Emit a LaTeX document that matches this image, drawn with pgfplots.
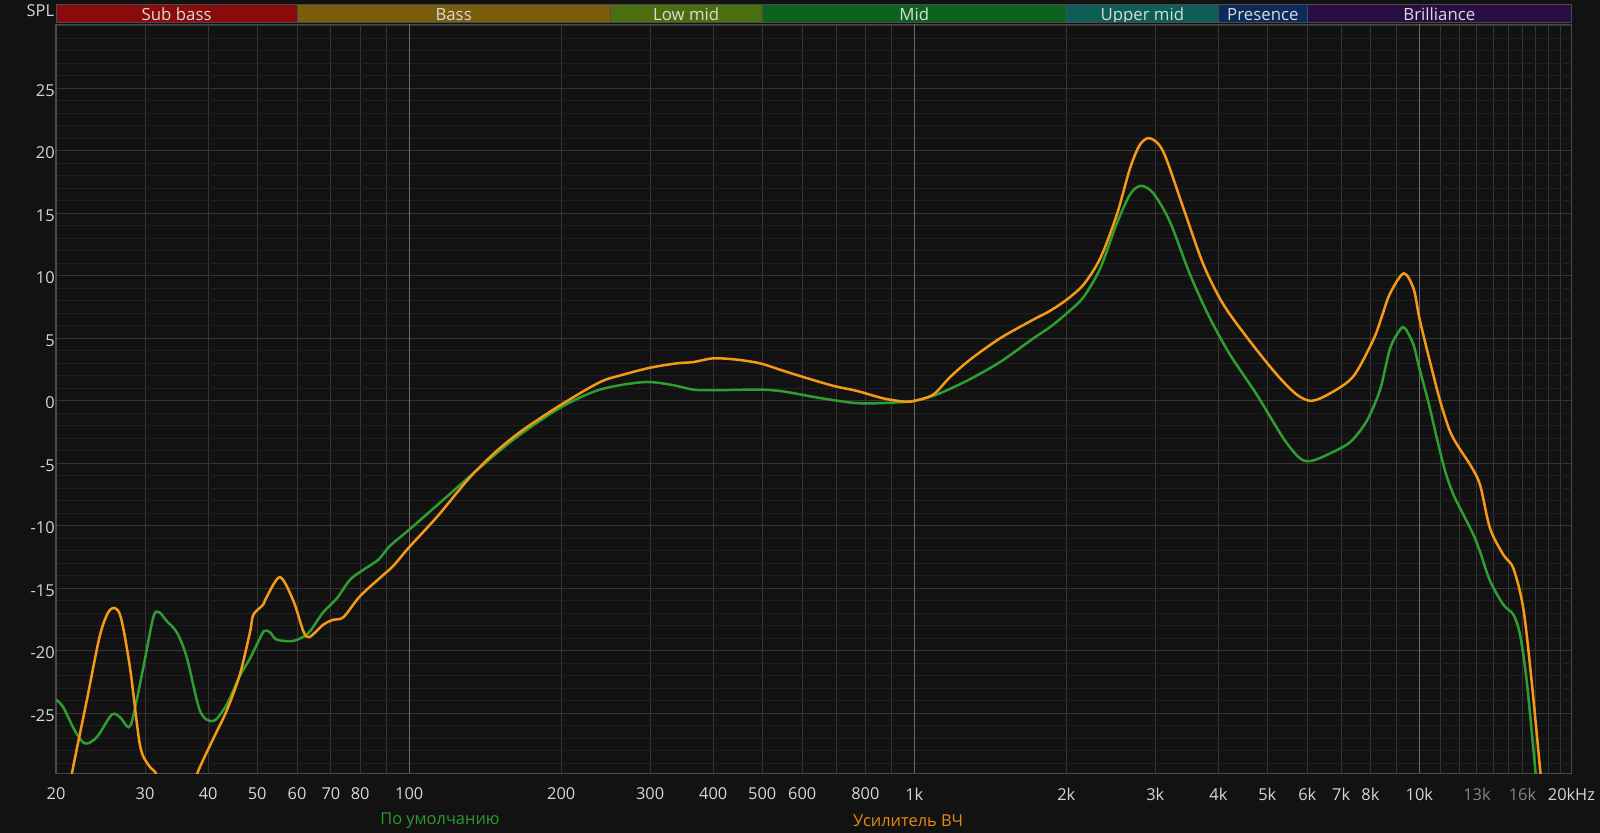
\documentclass[border=0pt]{standalone}
\usepackage{pgfplots}
\pgfplotsset{compat=1.18}
\usetikzlibrary{calc}
\usepackage{fontspec}
\setmainfont{Open Sans}
\definecolor{bg}{HTML}{121212}
\definecolor{gridmaj}{HTML}{363636}
\definecolor{gridmin}{HTML}{1F1F1F}
\definecolor{decade}{HTML}{6A6A6A}
\definecolor{border}{HTML}{4A4A4A}
\definecolor{ticktext}{HTML}{D6D6D6}
\definecolor{dimtext}{HTML}{858585}
\definecolor{cgreen}{HTML}{2E9E30}
\definecolor{corange}{HTML}{F59A14}
\definecolor{lgreen}{HTML}{2A9A2C}
\definecolor{lorange}{HTML}{E88A0C}
\definecolor{bsub}{HTML}{8A0B0B}
\definecolor{bbass}{HTML}{7B5E0B}
\definecolor{blow}{HTML}{4A6E10}
\definecolor{bmid}{HTML}{0C6320}
\definecolor{bupper}{HTML}{0D5E56}
\definecolor{bpres}{HTML}{0B2B5C}
\definecolor{bbril}{HTML}{2A0D42}
\definecolor{bandtext}{HTML}{DADADA}

\pgfplotstableread{
f db
20 -23.9
20.66 -24.5
21.8 -26.4
22.8 -27.4
24.07 -26.9
25.77 -25.1
26.76 -25.3
27.8 -26.1
28.4 -25.3
29.77 -21.3
31.15 -17.3
31.97 -16.9
33.1 -17.6
34.66 -18.5
36.28 -20.5
38.55 -24.8
40.96 -25.6
43.5 -24.3
46.2 -22.0
48.4 -20.6
50.2 -19.3
51.6 -18.4
53 -18.5
54.7 -19.1
59 -19.2
62.7 -18.7
64 -18.3
67.6 -16.9
71.9 -15.8
76.4 -14.3
81.2 -13.5
86.9 -12.7
91.6 -11.6
100 -10.3
116.9 -7.9
140.2 -5.1
163.3 -2.9
200 -0.5
238.6 0.9
290.8 1.5
328.6 1.3
365.4 0.9
400 0.85
495 0.9
550.9 0.75
641 0.27
746 -0.13
805 -0.2
896 -0.15
1000 0
1107 0.5
1270 1.6
1478 3.1
1721 5.0
1857 5.9
2004 7.0
2163 8.3
2334 10.6
2518 14.2
2674 16.5
2808 17.2
2974 16.6
3209 14.3
3515 10.1
3850 6.6
4217 3.7
4764 0.5
5381 -3.0
5804 -4.6
6120 -4.8
6655 -4.2
7292 -3.3
7867 -1.6
8360 0.9
8750 4.2
9160 5.7
9370 5.8
9730 4.5
10000 2.6
10410 -0.05
10830 -3.0
11250 -5.65
11680 -7.5
12220 -9.1
12790 -10.7
13180 -12.05
13800 -14.4
14660 -16.3
15350 -17.1
15820 -18.7
16310 -22.4
17000 -29.9
17300 -33
}\greendata

\pgfplotstableread{
f db
20.9 -33
21.47 -29.9
22.99 -24.0
24.44 -18.7
25.59 -16.7
26.76 -17.1
28 -21.3
29.3 -27.5
30.44 -29.1
31.64 -29.9
33 -32
36 -33
37.97 -29.9
40.96 -27.0
43.5 -24.8
46.2 -21.9
48.4 -18.5
49.15 -17.1
51.4 -16.3
52.2 -15.7
55.5 -14.1
59 -16.0
61.7 -18.4
63.4 -18.9
67.6 -17.9
70.8 -17.5
74.1 -17.3
80 -15.6
89 -13.9
93 -13.2
100 -11.7
113.4 -9.3
132 -6.1
149.1 -4.0
168.3 -2.3
200 -0.3
238.6 1.5
265.5 2.1
299.8 2.65
338.6 3.0
365 3.1
400 3.4
444.6 3.3
495 3.0
550.9 2.4
603.5 1.9
691.6 1.2
769 0.8
868 0.2
951 -0.05
1000 0
1090 0.5
1177 1.9
1290 3.3
1478 5.0
1721 6.5
1857 7.2
2004 8.1
2163 9.3
2334 11.4
2518 14.9
2674 18.6
2799 20.5
2931 21.0
3114 19.9
3411 15.4
3736 10.9
4093 7.7
4622 4.75
5220 2.1
5718 0.5
6120 0
6655 0.6
7398 1.95
8108 4.9
8420 6.7
8750 8.6
9313 10.2
9750 8.9
10000 6.6
10500 3.1
10990 0
11500 -2.45
12000 -3.8
12600 -5.1
13180 -6.7
13800 -10.2
14660 -12.3
15350 -13.4
16060 -16.6
16680 -22.4
17380 -29.9
17700 -33
}\orangedata

\begin{document}
\begin{tikzpicture}
\fill[bg] (-28.05pt,-29.75pt) rectangle (771.95pt,386.75pt);
\begin{axis}[
  at={(0pt,0pt)}, anchor=south west,
  width=757.65pt, height=374.5pt, scale only axis,
  xmode=log, xmin=20, xmax=20000, ymin=-29.8, ymax=30.1,
  axis background/.style={fill=bg},
  xtick={20,30,40,50,60,70,80,90,100,200,300,400,500,600,700,800,900,1000,2000,3000,4000,5000,6000,7000,8000,9000,10000,11000,12000,13000,14000,15000,16000,17000,18000,19000,20000},
  xticklabels={20,30,40,50,60,70,80,{},100,200,300,400,500,600,{},800,{},1k,2k,3k,4k,5k,6k,7k,8k,{},10k,{},{},\textcolor{dimtext}{13k},{},{},\textcolor{dimtext}{16k},{},{},{},20kHz},
  ytick={-25,-20,-15,-10,-5,0,5,10,15,20,25,30},
  yticklabels={-25,-20,-15,-10,-5,0,5,10,15,20,25,{}},
  minor ytick={-29,-28,-27,-26,-24,-23,-22,-21,-19,-18,-17,-16,-14,-13,-12,-11,-9,-8,-7,-6,-4,-3,-2,-1,1,2,3,4,6,7,8,9,11,12,13,14,16,17,18,19,21,22,23,24,26,27,28,29},
  xmajorgrids, ymajorgrids, yminorgrids,
  major grid style={draw=gridmaj, line width=0.5pt},
  minor grid style={draw=gridmin, line width=0.5pt},
  extra x ticks={100,1000,10000},
  extra x tick labels={},
  extra x tick style={xmajorgrids=true, major grid style={draw=decade, line width=0.5pt}},
  major tick length=0pt, minor tick length=0pt,
  axis line style={draw=border, line width=0.9pt},
  tick label style={font=\fontsize{8.2}{9.5}\selectfont, text=ticktext},
  /pgf/number format/assume math mode=true,
  xticklabel style={inner sep=0pt, yshift=-7pt},
  yticklabel style={inner sep=0pt, xshift=-0.5pt, yshift=-1pt},
]
\addplot[cgreen, line width=1.25pt, smooth, no markers] table[x=f, y=db] {\greendata};
\addplot[corange, line width=1.25pt, smooth, no markers] table[x=f, y=db] {\orangedata};
\coordinate (b1) at (axis cs:20,30.1);
\coordinate (b2) at (axis cs:60,30.1);
\coordinate (b3) at (axis cs:250,30.1);
\coordinate (b4) at (axis cs:500,30.1);
\coordinate (b5) at (axis cs:2000,30.1);
\coordinate (b6) at (axis cs:4000,30.1);
\coordinate (b7) at (axis cs:6000,30.1);
\coordinate (b8) at (axis cs:20000,30.1);
\coordinate (tl) at (rel axis cs:0,1);
\coordinate (lg1) at (rel axis cs:0.2533,0);
\coordinate (lg2) at (rel axis cs:0.5623,0);
\end{axis}
\begin{scope}[font=\fontsize{8.4}{9.5}\selectfont]
\foreach \a/\b/\c/\t in {b1/b2/bsub/Sub bass, b2/b3/bbass/Bass, b3/b4/blow/Low mid, b4/b5/bmid/Mid, b5/b6/bupper/Upper mid, b6/b7/bpres/Presence, b7/b8/bbril/Brilliance}{
  \fill[\c] ([yshift=1pt]\a) rectangle ([yshift=10.2pt]\b);
  \begin{scope}
  \clip ([yshift=1pt]\a) rectangle ([yshift=10.2pt]\b);
  \node[text=bandtext, inner sep=0pt, anchor=base] at ($([yshift=2pt]\a)!0.5!([yshift=2pt]\b)$) {\t};
  \end{scope}
  \draw[draw=border, line width=0.4pt] ([yshift=1pt]\a) rectangle ([yshift=10.2pt]\b);
}
\end{scope}
\begin{scope}[font=\fontsize{8.2}{9.5}\selectfont]
\node[text=ticktext, inner sep=0pt, anchor=base east] at ([xshift=-0.8pt, yshift=3.8pt]tl) {SPL};
\node[text=lgreen, inner sep=0pt, anchor=center] at ([yshift=-23.5pt]lg1) {По умолчанию};
\node[text=lorange, inner sep=0pt, anchor=center] at ([yshift=-23.5pt]lg2) {Усилитель ВЧ};
\end{scope}
\pgfresetboundingbox
\useasboundingbox (-28.05pt,-29.75pt) rectangle (771.95pt,386.75pt);
\end{tikzpicture}
\end{document}
